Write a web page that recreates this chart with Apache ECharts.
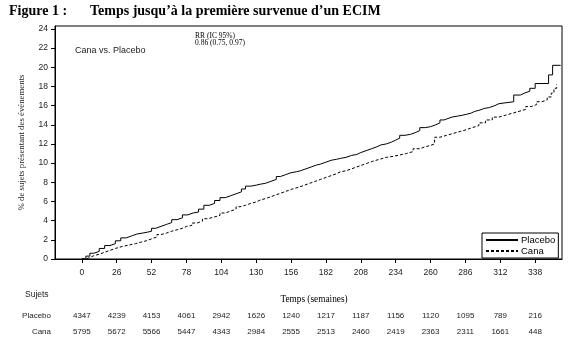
<!DOCTYPE html>
<html>
<head>
<meta charset="utf-8">
<script src="https://cdn.jsdelivr.net/npm/echarts@6/dist/echarts.min.js"></script>
<style>
html,body{margin:0;padding:0;background:#fff;}
#chart{width:570px;height:345px;}
</style>
</head>
<body>
<div id="chart"></div>
<script>
// ---- Data ----
const xTicks = [0, 26, 52, 78, 104, 130, 156, 182, 208, 234, 260, 286, 312, 338];
const yTicks = [0, 2, 4, 6, 8, 10, 12, 14, 16, 18, 20, 22, 24];
const placeboAtRisk = [4347, 4239, 4153, 4061, 2942, 1626, 1240, 1217, 1187, 1156, 1120, 1095, 789, 216];
const canaAtRisk = [5795, 5672, 5566, 5447, 4343, 2984, 2555, 2513, 2460, 2419, 2363, 2311, 1661, 448];

// Kaplan-Meier cumulative incidence (%), [week, value]
const placeboCurve = [
  [0,0],[3,0.3],[6,0.6],[9,0.8],[13,1.1],[17,1.4],[21,1.6],[25,1.9],[29,2.2],[33,2.4],[37,2.6],[41,2.7],
  [45,2.8],[49,2.9],[52,3.2],[55,3.4],[59,3.6],[63,3.8],[67,4.1],[71,4.3],[75,4.6],[79,4.8],[83,4.9],
  [87,5.2],[91,5.6],[95,5.8],[99,6.1],[103,6.4],[107,6.6],[111,6.8],[115,7.0],[119,7.3],[122,7.6],
  [126,7.7],[130,7.8],[133,7.9],[137,8.1],[141,8.3],[145,8.6],[148,8.8],[152,9.0],[156,9.1],[160,9.2],
  [163,9.4],[167,9.6],[171,9.8],[175,9.9],[178,10.1],[182,10.3],[186,10.4],[190,10.5],[193,10.6],
  [197,10.8],[201,10.9],[205,11.1],[208,11.3],[212,11.5],[216,11.7],[220,11.9],[223,12.0],[227,12.2],
  [231,12.4],[234,12.6],[237,12.9],[241,13.0],[245,13.2],[249,13.4],[252,13.7],[256,13.8],[260,14.0],
  [264,14.2],[267,14.5],[270,14.6],[272,14.8],[276,14.9],[280,15.0],[284,15.1],[287,15.2],[290,15.4],
  [293,15.5],[296,15.7],[300,15.8],[304,16.0],[308,16.2],[311,16.4],[322,17.1],[327,17.3],[330,17.5],
  [334,17.8],[338,18.3],[348,19.2],[351,20.2],[357,20.2]
];
const canaCurve = [
  [0,0],[3,0.15],[6,0.35],[9,0.5],[13,0.7],[17,0.9],[21,1.1],[25,1.3],[30,1.45],[35,1.6],[40,1.75],
  [44,1.9],[48,2.1],[52,2.3],[56,2.55],[59,2.7],[63,2.9],[67,3.05],[71,3.2],[75,3.4],[78,3.5],[82,3.75],
  [86,3.95],[90,4.2],[94,4.35],[98,4.55],[103,4.8],[107,5.0],[111,5.2],[115,5.45],[118,5.6],[122,5.8],
  [126,5.95],[130,6.15],[133,6.3],[137,6.5],[141,6.7],[145,6.9],[149,7.1],[153,7.3],[157,7.5],[162,7.7],
  [166,7.9],[170,8.1],[174,8.3],[178,8.5],[182,8.7],[186,8.9],[190,9.1],[193,9.2],[197,9.4],[201,9.6],
  [205,9.8],[209,10.0],[213,10.2],[217,10.4],[222,10.6],[227,10.7],[232,10.85],[237,11.0],[242,11.2],
  [247,11.5],[252,11.7],[256,11.85],[260,12.0],[263,12.7],[267,12.9],[272,13.1],[277,13.3],[282,13.5],
  [287,13.7],[291,13.9],[296,14.2],[301,14.5],[306,14.8],[311,15.0],[316,15.2],[321,15.4],[326,15.6],
  [331,15.9],[335,16.1],[339,16.4],[343,16.6],[347,16.9],[350,17.3],[352,17.8],[354,18.2]
];

// ---- Chart ----
const SANS = 'Liberation Sans, Arial, sans-serif';
const SERIF = 'Liberation Serif, Times New Roman, serif';
const X_MIN = -20, X_MAX = 358;

function tableAxis(counts, offset, name) {
  return {
    type: 'value', gridIndex: 0, position: 'bottom', min: X_MIN, max: X_MAX, offset: offset,
    axisLine: {show: false, onZero: false}, axisTick: {show: false}, splitLine: {show: false},
    axisLabel: {
      customValues: xTicks, margin: 0, verticalAlign: 'middle', fontFamily: SANS, fontSize: 8, color: '#222',
      formatter: function (v) { const i = xTicks.indexOf(v); return i >= 0 ? String(counts[i]) : ''; }
    },
    name: name, nameLocation: 'start', nameGap: 4,
    nameTextStyle: {fontFamily: SANS, fontSize: 8, color: '#222', align: 'right', verticalAlign: 'middle'}
  };
}

const chart = echarts.init(document.getElementById('chart'), null, {renderer: 'canvas'});
chart.setOption({
  animation: false,
  backgroundColor: '#fff',
  title: [
    {text: 'Figure 1 :', left: 9, top: 4, padding: 0,
     textStyle: {fontFamily: SERIF, fontSize: 14, fontWeight: 'bold', color: '#000'}},
    {text: 'Temps jusqu’à la première survenue d’un ECIM', left: 90, top: 4, padding: 0,
     textStyle: {fontFamily: SERIF, fontSize: 14, fontWeight: 'bold', color: '#000'}},
    {text: 'Cana vs. Placebo', left: 75, top: 46, padding: 0,
     textStyle: {fontFamily: SANS, fontSize: 9, fontWeight: 'normal', color: '#222'}},
    {text: 'RR (IC 95%)\n0.86 (0.75, 0.97)', left: 195, top: 32, padding: 0,
     textStyle: {fontFamily: SERIF, fontSize: 7.5, lineHeight: 7.5, fontWeight: 'normal', color: '#000'}},
    {text: 'Sujets', left: 25, top: 290, padding: 0,
     textStyle: {fontFamily: SANS, fontSize: 8.5, fontWeight: 'normal', color: '#222'}}
  ],
  legend: {
    data: ['Placebo', 'Cana'], orient: 'vertical', left: 482, top: 233, align: 'left',
    padding: [2, 3, 2, 3], itemGap: 1, itemWidth: 32, itemHeight: 10,
    borderColor: '#000', borderWidth: 1, backgroundColor: '#fff',
    itemStyle: {opacity: 0},
    textStyle: {fontFamily: SANS, fontSize: 9.5, color: '#000', padding: [0, 0, 0, -2]}
  },
  grid: {left: 55, right: 8, top: 26, bottom: 86, show: true, borderColor: '#000', borderWidth: 1,
         backgroundColor: 'transparent'},
  xAxis: [
    {
      type: 'value', min: X_MIN, max: X_MAX, position: 'bottom',
      axisLine: {show: true, onZero: false, lineStyle: {color: '#000', width: 1}},
      axisTick: {show: true, customValues: xTicks, length: 4, inside: false, lineStyle: {color: '#000'}},
      axisLabel: {customValues: xTicks, margin: 9, fontFamily: SANS, fontSize: 8.5, color: '#222'},
      splitLine: {show: false},
      name: 'Temps (semaines)', nameLocation: 'middle', nameGap: 36,
      nameTextStyle: {fontFamily: SERIF, fontSize: 9.3, color: '#000', padding: [0, 0, 0, 11]}
    },
    tableAxis(placeboAtRisk, 57, 'Placebo'),
    tableAxis(canaAtRisk, 73, 'Cana')
  ],
  yAxis: {
    type: 'value', min: 0, max: 24.3, position: 'left',
    axisLine: {show: true, onZero: false, lineStyle: {color: '#000', width: 1}},
    axisTick: {show: true, customValues: yTicks, length: 4, lineStyle: {color: '#000'}},
    axisLabel: {customValues: yTicks, margin: 7, fontFamily: SANS, fontSize: 8.5, color: '#222'},
    splitLine: {show: false},
    name: '% de sujets présentant des événements', nameLocation: 'middle', nameGap: 29, nameRotate: 90,
    nameTextStyle: {fontFamily: SERIF, fontSize: 8.8, color: '#222'}
  },
  series: [
    {name: 'Placebo', type: 'line', xAxisIndex: 0, yAxisIndex: 0, step: 'end', symbol: 'none',
     data: placeboCurve, lineStyle: {color: '#000', width: 1, type: 'solid'}, itemStyle: {color: '#000'}},
    {name: 'Cana', type: 'line', xAxisIndex: 0, yAxisIndex: 0, step: 'end', symbol: 'none',
     data: canaCurve, lineStyle: {color: '#000', width: 1, type: [3, 2]}, itemStyle: {color: '#000'}}
  ]
});
</script>
</body>
</html>
